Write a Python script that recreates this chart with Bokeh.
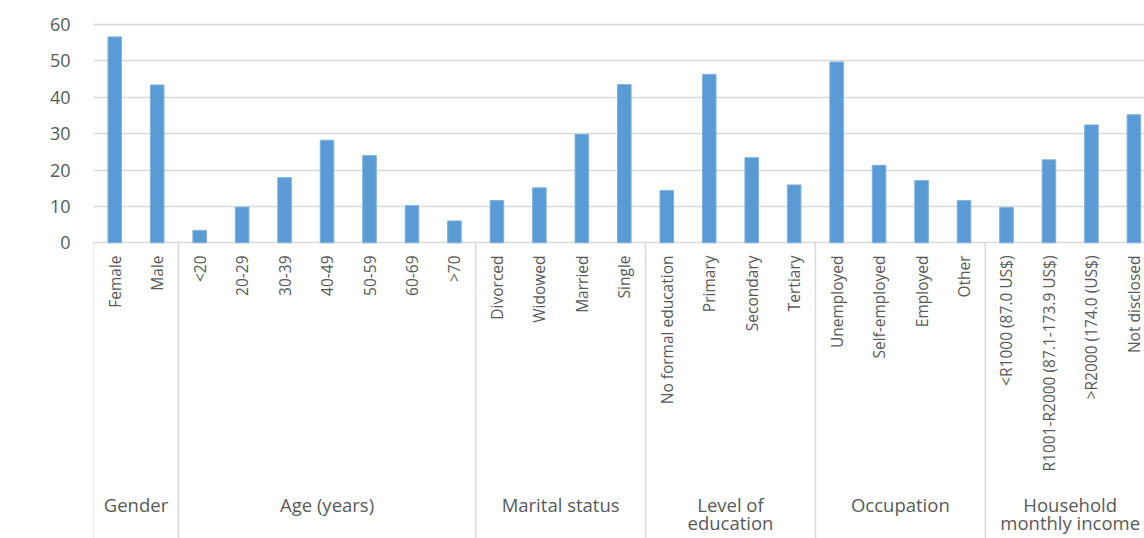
import math
from bokeh.plotting import figure
from bokeh.models import Range1d, FixedTicker, Label, ColumnDataSource
from bokeh.core.properties import value
from bokeh.embed import file_html
from bokeh.resources import INLINE

# ---- data ----
categories = ["Female", "Male",
              "<20", "20-29", "30-39", "40-49", "50-59", "60-69", ">70",
              "Divorced", "Widowed", "Married", "Single",
              "No formal education", "Primary", "Secondary", "Tertiary",
              "Unemployed", "Self-employed", "Employed", "Other",
              "<R1000 (87.0 US$)", "R1001-R2000 (87.1-173.9 US$)", ">R2000 (174.0 (US$)", "Not disclosed"]
participants = [56.6, 43.4,
                3.4, 9.8, 17.9, 28.2, 24.0, 10.2, 6.0,
                11.6, 15.1, 29.8, 43.5,
                14.4, 46.3, 23.4, 15.9,
                49.7, 21.3, 17.1, 11.6,
                9.7, 22.8, 32.4, 35.2]
group_lines = [["Gender"], ["Age (years)"], ["Marital status"], ["Level of", "education"],
               ["Occupation"], ["Household", "monthly income"]]
group_sizes = [2, 7, 4, 4, 4, 4]
y_ticks = [0, 10, 20, 30, 40, 50, 60]

FONT = "Open Sans"
TXT = "#595959"
GRID = "#D9D9D9"
BAR = "#5B9BD5"

xs = list(range(len(categories)))

p = figure(width=1144, height=538,
           x_range=Range1d(-0.5, 24.25), y_range=Range1d(-81.3, 66.6),
           output_backend="svg", toolbar_location=None, x_axis_location=None,
           min_border_left=93, min_border_right=0, min_border_top=0, min_border_bottom=0)
p.outline_line_color = None
p.background_fill_color = "white"

# y axis
ya = p.yaxis[0]
ya.ticker = FixedTicker(ticks=y_ticks)
ya.axis_line_color = None
ya.major_tick_line_color = None
ya.minor_tick_line_color = None
ya.major_tick_out = 0
ya.major_tick_in = 0
ya.major_label_standoff = 23
ya.major_label_text_font = FONT
ya.major_label_text_font_size = "18px"
ya.major_label_text_color = TXT

p.xgrid.visible = False
p.ygrid.ticker = FixedTicker(ticks=y_ticks)
p.ygrid.grid_line_color = GRID
p.ygrid.grid_line_width = 1.5

# bars
src = ColumnDataSource(dict(x=xs, top=participants, cat=categories))
p.vbar(x="x", top="top", bottom=0, width=0.32, source=src, fill_color=BAR, line_color="#7FB2E0", line_width=1)

# separators between groups
bounds = [-0.5]
for s in group_sizes:
    bounds.append(bounds[-1] + s)
sep_x = bounds[:-1]
p.segment(x0=sep_x, y0=[0] * len(sep_x), x1=sep_x, y1=[-90] * len(sep_x), line_color=GRID, line_width=1.5)

# category labels
p.text(x="x", y=-3.5, text="cat", source=src, angle=math.pi / 2, text_align="right",
       text_baseline="middle", text_font=value(FONT), text_font_size="15.5px", text_color=TXT)

# group labels
gx, gy, gt = [], [], []
for i, lines in enumerate(group_lines):
    c = (bounds[i] + bounds[i + 1]) / 2
    for j, ln in enumerate(lines):
        gx.append(c)
        gy.append(-72.0 - 5.0 * j)
        gt.append(ln)
p.text(x=gx, y=gy, text=gt, text_align="center", text_baseline="middle",
       text_font=value(FONT), text_font_size="18.5px", text_color=TXT)

# y axis title
p.add_layout(Label(x=-2.18, y=30, text="Participants (%)", angle=math.pi / 2,
                   text_align="center", text_baseline="middle", text_font=FONT,
                   text_font_size="17.5px", text_color=TXT))

open("out.html", "w").write(file_html(p, INLINE))
